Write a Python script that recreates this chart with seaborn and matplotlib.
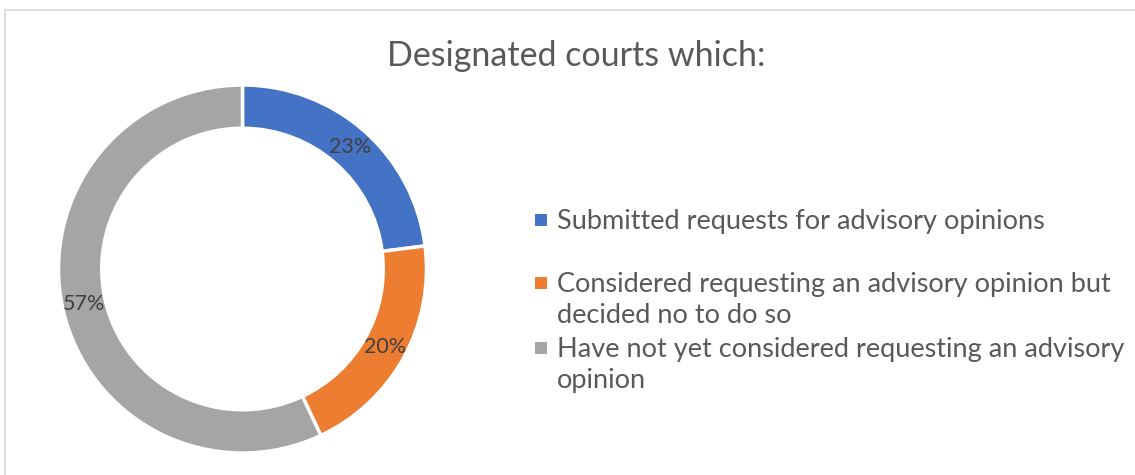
import matplotlib
matplotlib.use("Agg")
import matplotlib.pyplot as plt
import seaborn as sns
import numpy as np
from matplotlib.patches import Rectangle

# data
categories = [
    "Submitted requests for advisory opinions",
    "Considered requesting an advisory opinion but\ndecided no to do so",
    "Have not yet considered requesting an advisory\nopinion",
]
shares = [23, 20, 57]
colors = ["#4472C4", "#ED7D31", "#A5A5A5"]
title = "Designated courts which:"

sns.set_theme(style="white")
plt.rcParams["font.family"] = ["Lato", "DejaVu Sans"]
text_color = "#595959"

W, H = 1135, 475
fig = plt.figure(figsize=(W / 100, H / 100), dpi=100)

# outer border of the chart area
fig.patches.append(Rectangle((5 / W, -0.1), 1.2, (H - 10) / H + 0.1,
                             transform=fig.transFigure, fill=False,
                             edgecolor="#D9D9D9", linewidth=1.2))

# donut
cx, cy, r = 242.5, 269, 184
ring = 0.235
ax = fig.add_axes([(cx - r) / W, (H - cy - r) / H, 2 * r / W, 2 * r / H])
wedges, _ = ax.pie(shares, colors=colors, startangle=90, counterclock=False,
                   radius=1, wedgeprops=dict(width=ring, edgecolor="white", linewidth=2.5))
ax.set_xlim(-1, 1)
ax.set_ylim(-1, 1)
ax.set_aspect("equal")
ax.axis("off")

mid_r = 1 - ring / 2
for w, v in zip(wedges, shares):
    ang = np.deg2rad((w.theta1 + w.theta2) / 2)
    ax.text(mid_r * np.cos(ang), mid_r * np.sin(ang), f"{v}%",
            ha="center", va="center", fontsize=15.5, color="#404040")

fig.text(576 / W, 1 - 56 / H, title, ha="center", va="center",
         fontsize=24.5, color=text_color)

# legend
legend_y = [220, 283, 348]
for lab, col, y in zip(categories, colors, legend_y):
    fig.patches.append(Rectangle((535 / W, 1 - (y + 6) / H), 12 / W, 12 / H,
                                 transform=fig.transFigure, facecolor=col,
                                 edgecolor="none"))
    fig.text(557 / W, 1 - (y - 11) / H, lab, ha="left", va="top",
             fontsize=19.5, color=text_color, linespacing=1.3)

fig.savefig("out.png", dpi=100)
